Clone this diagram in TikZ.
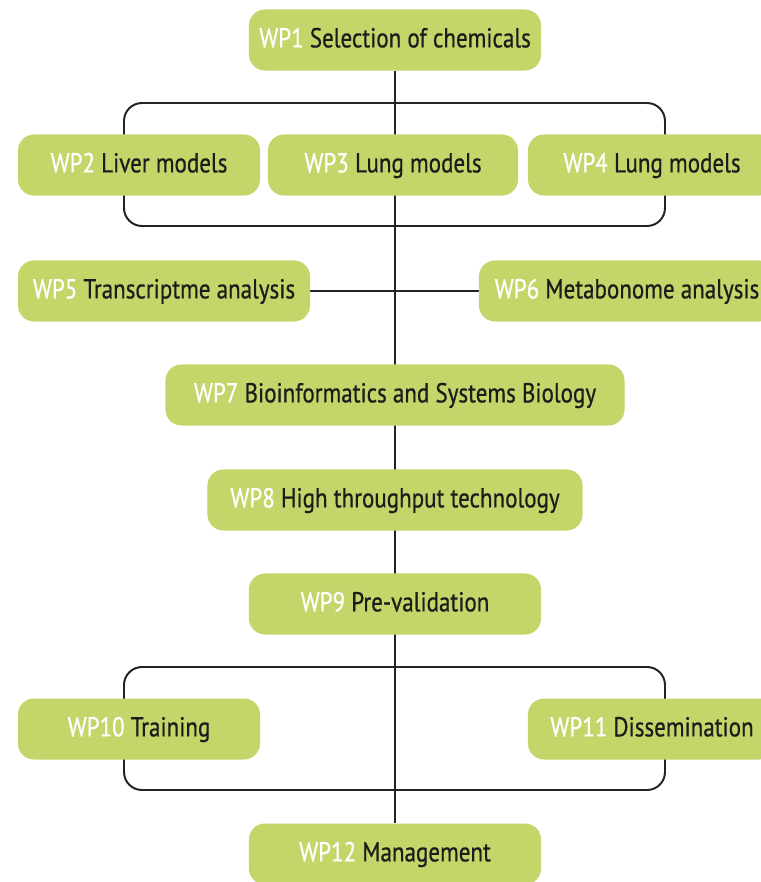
\documentclass[tikz,border=0pt]{standalone}
\usepackage{fontspec}
\setmainfont[FakeStretch=0.84, FakeBold=0.6]{PT Sans}
\usetikzlibrary{backgrounds}
\definecolor{wpgreen}{RGB}{194,214,106}
\definecolor{wpline}{RGB}{35,35,35}
\definecolor{wptext}{RGB}{30,28,26}
\newcommand{\wpname}[2]{{\color{white}WP#1} #2}
\tikzset{
  wpbox/.style={fill=wpgreen, rounded corners=0.4cm, minimum height=1.525cm,
    text=wptext, font=\fontsize{19.5}{22}\selectfont, inner sep=0pt,
    text height=1.15em, text depth=0.1em},
  wpwire/.style={draw=wpline, line width=1.4pt}
}
\begin{document}
\begin{tikzpicture}[x=0.025cm,y=-0.025cm]\tikzstyle{every node} = [align=center]
  \path[use as bounding box, clip] (0,0) rectangle (761,882);

  \node[wpbox, minimum width=7.3cm] (wp1) at (395,40) {\wpname{1}{Selection of chemicals}};

  \node[wpbox, minimum width=6.05cm] (wp2) at (139,165) {\wpname{2}{Liver models}};
  \node[wpbox, minimum width=6.25cm] (wp3) at (393,165) {\wpname{3}{Lung models}};
  \node[wpbox, minimum width=6.2cm] (wp4) at (652,165) {\wpname{4}{Lung models}};

  \node[wpbox, minimum width=7.3cm] (wp5) at (164,291) {\wpname{5}{Transcriptme analysis}};
  \node[wpbox, minimum width=7.4cm] (wp6) at (627,291) {\wpname{6}{Metabonome analysis}};

  \node[wpbox, minimum width=11.475cm] (wp7) at (395,395) {\wpname{7}{Bioinformatics and Systems Biology}};
  \node[wpbox, minimum width=9.375cm] (wp8) at (395,500) {\wpname{8}{High throughput technology}};
  \node[wpbox, minimum width=7.3cm] (wp9) at (395,604) {\wpname{9}{Pre-validation}};

  \node[wpbox, minimum width=6.05cm] (wp10) at (139,729) {\wpname{10}{Training}};
  \node[wpbox, minimum width=6.2cm] (wp11) at (652,729) {\wpname{11}{Dissemination}};

  \node[wpbox, minimum width=7.3cm] (wp12) at (395,854) {\wpname{12}{Management}};

  \coordinate (grpa) at (124,103);
  \coordinate (grpb) at (665,226);
  \coordinate (grpc) at (124,667);
  \coordinate (grpd) at (665,790);

  \begin{pgfonlayer}{background}
    \draw[wpwire, rounded corners=0.45cm] (grpa) rectangle (grpb);
    \draw[wpwire, rounded corners=0.45cm] (grpc) rectangle (grpd);
    \draw[wpwire] (wp1.south) -- (wp12.north);
    \draw[wpwire] (wp5.east) -- (wp6.west);
  \end{pgfonlayer}
\end{tikzpicture}
\end{document}
